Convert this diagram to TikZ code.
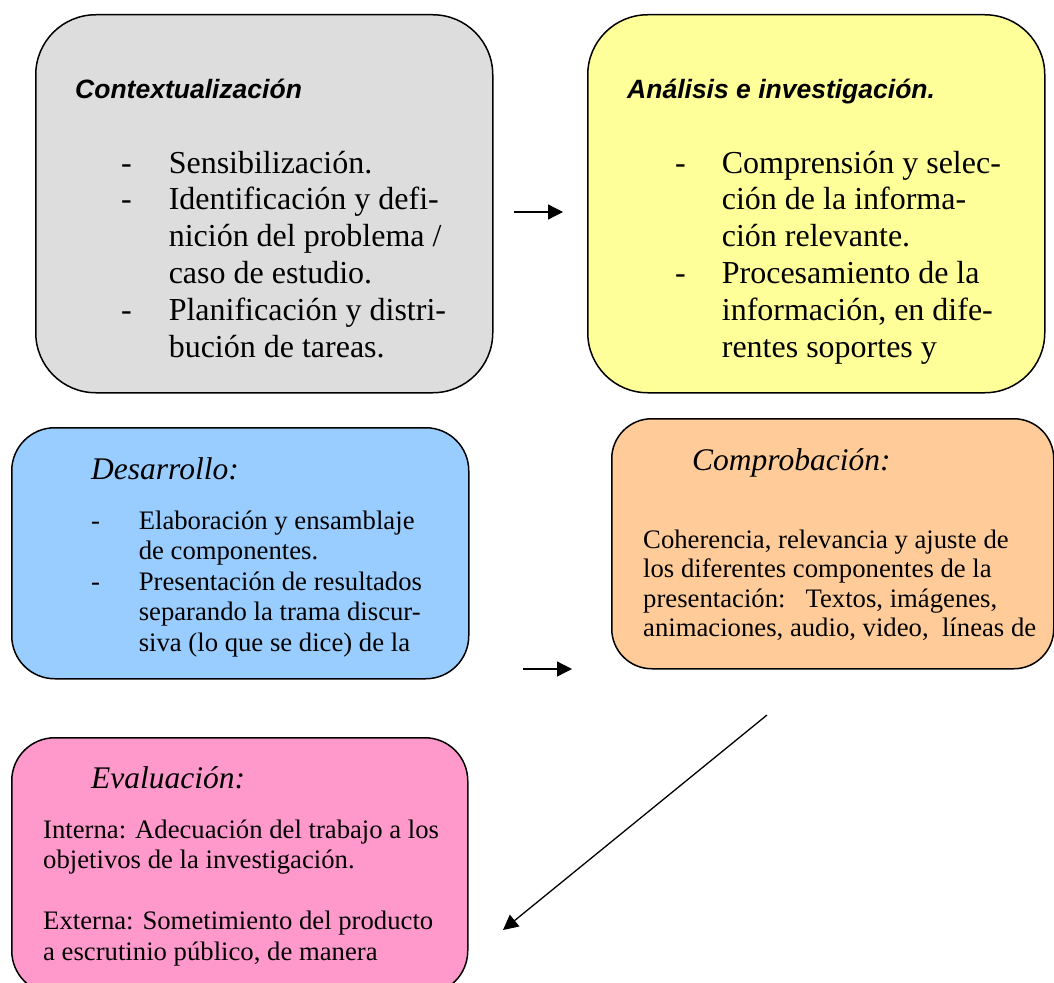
\documentclass[tikz,border=0pt]{standalone}
\usepackage{fontspec}
\setmainfont{Liberation Serif}
\newfontfamily\titlefont{Liberation Sans}
\usepackage{xcolor}
\usepackage{tikz}
\usetikzlibrary{arrows.meta}
\usetikzlibrary{positioning}
\definecolor{grisbox}{HTML}{DDDDDD}
\definecolor{amarillobox}{HTML}{FFFF99}
\definecolor{azulbox}{HTML}{99CCFF}
\definecolor{naranjabox}{HTML}{FFCC99}
\definecolor{rosabox}{HTML}{FF99CC}
\tikzset{
    panel/.style={
           rectangle,
           draw=black, line width=1.5pt,
           inner sep=0pt,
           anchor=north west,
           },
     plain/.style={
           %rectangle,
           %draw=black,
           inner sep=0pt,
           anchor=base west,
           },
     flecha/.style={
           line width=1.3pt,
           -{Triangle[length=15pt,width=15pt]},
           },
}

\begin{document}
\begin{tikzpicture}[x=1pt,y=-1pt]
	\useasboundingbox (0,0) rectangle (1054,982);
	\tikzset{bigtext/.style={font=\fontsize{32}{36.8}\selectfont},};
	\tikzset{smalltext/.style={font=\fontsize{26.7}{30.5}\selectfont},};
	\tikzset{headtext/.style={font=\fontsize{31.5}{36}\selectfont\itshape},};
	\tikzset{sanshead/.style={font=\titlefont\bfseries\itshape\fontsize{26.5}{30}\selectfont},};

	%boxes
	\node[panel, fill=grisbox, rounded corners=60pt, minimum width=457pt, minimum height=378pt] (ctx) at (35,14) {};
	\node[panel, fill=amarillobox, rounded corners=60pt, minimum width=457pt, minimum height=378pt] (anl) at (587,14) {};
	\node[panel, fill=azulbox, rounded corners=43pt, minimum width=457pt, minimum height=251pt] (des) at (11,427) {};
	\node[panel, fill=naranjabox, rounded corners=40pt, minimum width=442pt, minimum height=250pt] (cmp) at (611,418) {};
	\node[panel, fill=rosabox, rounded corners=43pt, minimum width=456pt, minimum height=256pt] (eva) at (11,737) {};

	%texts
	\node[plain, sanshead] (ctxH) at (75,98) {Contextualización};
	\node[plain, bigtext] (ctxB) at (121,173) {\begin{tabular}[t]{@{}l@{\hspace{36.9pt}}l@{}}
										- & Sensibilización.\\
										- & Identificación y defi-\\
										  & nición del problema /\\
										  & caso de estudio.\\
										- & Planificación y distri-\\
										  & bución de tareas.
									\end{tabular}};

	\node[plain, sanshead] (anlH) at (627,98) {Análisis e investigación.};
	\node[plain, bigtext] (anlB) at (675,173) {\begin{tabular}[t]{@{}l@{\hspace{36pt}}l@{}}
										- & Comprensión y selec-\\
										  & ción de la informa-\\
										  & ción relevante.\\
										- & Procesamiento de la\\
										  & información, en dife-\\
										  & rentes soportes y
									\end{tabular}};

	\node[plain, headtext] (desH) at (91,479) {Desarrollo:};
	\node[plain, smalltext] (desB) at (91,529) {\begin{tabular}[t]{@{}l@{\hspace{38.7pt}}l@{}}
										- & Elaboración y ensamblaje\\
										  & de componentes.\\
										- & Presentación de resultados\\
										  & separando la trama discur-\\
										  & siva (lo que se dice) de la
									\end{tabular}};

	\node[plain, headtext] (cmpH) at (692,470) {Comprobación:};
	\node[plain, font=\fontsize{26.7}{29.6}\selectfont] (cmpB) at (643,548) {\begin{tabular}[t]{@{}l@{}}
										Coherencia, relevancia y ajuste de\\
										los diferentes componentes de la\\
										presentación:\ \ \ Textos, imágenes,\\
										animaciones, audio, video,\ \ líneas de
									\end{tabular}};

	\node[plain, headtext] (evaH) at (91,788) {Evaluación:};
	\node[plain, smalltext] (evaB) at (43,838) {\begin{tabular}[t]{@{}l@{}}
										Interna: Adecuación del trabajo a los\\
										objetivos de la investigación.\\
										\\
										Externa: Sometimiento del producto\\
										a escrutinio público, de manera
									\end{tabular}};

	%ARROWS
	\coordinate (a1s) at (514,212);
	\coordinate (a1e) at (563,212);
	\coordinate (a2s) at (523,669);
	\coordinate (a2e) at (572,669);
	\coordinate (a3s) at (767,715);
	\coordinate (a3e) at (503,930);
	\draw[flecha] (a1s) -- (a1e);
	\draw[flecha] (a2s) -- (a2e);
	\draw[flecha] (a3s) -- (a3e);
\end{tikzpicture}
\end{document}
